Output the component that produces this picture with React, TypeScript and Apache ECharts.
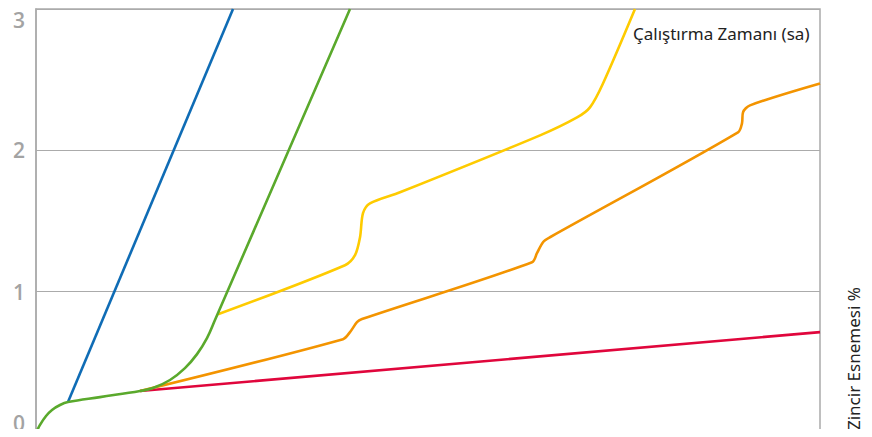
import React, { useEffect, useRef } from "react";
import * as echarts from "echarts";

// Running time (nominal scale 0..100, no tick labels) vs chain elongation %
const startPts: [number, number][] = [
  [0, 0], [0.51, 0.057], [1.28, 0.12], [2.04, 0.163], [3.06, 0.198], [4.08, 0.219],
];
const bluePts: [number, number][] = [[4.08, 0.219], [25.13, 3.0]];
const greenPts: [number, number][] = [
  ...startPts,
  [8.16, 0.254], [13.27, 0.297], [14.92, 0.318], [17.09, 0.375], [19.0, 0.459],
  [20.54, 0.558], [21.81, 0.671], [22.83, 0.799], [40.05, 3.0],
];
const yellowPts: [number, number][] = [
  [23.21, 0.84], [39.41, 1.187], [40.69, 1.258], [41.33, 1.385], [41.71, 1.555],
  [42.6, 1.625], [46.43, 1.703], [64.29, 2.106], [69.01, 2.233], [70.66, 2.304],
  [72.32, 2.473], [76.4, 3.0],
];
const orangePts: [number, number][] = [
  [13.27, 0.297], [39.16, 0.664], [40.05, 0.714], [40.94, 0.784], [41.58, 0.806],
  [63.27, 1.208], [63.9, 1.272], [64.67, 1.35], [65.56, 1.385], [89.54, 2.127],
  [90.05, 2.191], [90.18, 2.269], [91.07, 2.318], [100, 2.473],
];
const redPts: [number, number][] = [[13.27, 0.297], [100, 0.714]];

const yTicks = [0, 1, 2, 3];
const xLabel = "Çalıştırma Zamanı (sa)";
const yLabel = "Zincir Esnemesi %";

const COLORS = {
  red: "#e0063c",
  orange: "#f39400",
  yellow: "#fecb00",
  blue: "#0f6cb5",
  green: "#5aa92c",
};

export default function App() {
  const ref = useRef<HTMLDivElement>(null);
  useEffect(() => {
    if (!ref.current) return;
    const chart = echarts.init(ref.current, undefined, { renderer: "svg" });
    const mk = (name: string, data: [number, number][], color: string, smooth: number) => ({
      name,
      type: "line",
      data,
      smooth,
      showSymbol: false,
      symbol: "none",
      clip: true,
      lineStyle: { color, width: 2.6 },
      itemStyle: { color },
    });
    chart.setOption({
      animation: false,
      grid: {
        left: 36,
        right: 52,
        top: 9,
        bottom: 4,
        show: true,
        borderColor: "#ababab",
        borderWidth: 1.5,
        containLabel: false,
      },
      xAxis: {
        type: "value",
        min: 0,
        max: 100,
        axisLabel: { show: false },
        axisTick: { show: false },
        splitLine: { show: false },
        axisLine: { show: true, lineStyle: { color: "#ababab", width: 1.5 } },
      },
      yAxis: {
        type: "value",
        min: yTicks[0],
        max: yTicks[yTicks.length - 1],
        interval: 1,
        axisTick: { show: false },
        axisLine: { show: true, lineStyle: { color: "#ababab", width: 1.5 } },
        splitLine: { show: true, lineStyle: { color: "#ababab", width: 1.2 } },
        axisLabel: {
          color: "#a3a3a3",
          fontSize: 21,
          fontWeight: 600,
          fontFamily: "Open Sans",
          margin: 11,
          verticalAlignMinLabel: "bottom",
          verticalAlignMaxLabel: "top",
        },
      },
      series: [
        mk("red", redPts, COLORS.red, 0),
        mk("orange", orangePts, COLORS.orange, 0.3),
        mk("yellow", yellowPts, COLORS.yellow, 0.3),
        mk("blue", bluePts, COLORS.blue, 0),
        mk("green", greenPts, COLORS.green, 0.4),
      ],
      graphic: [
        {
          type: "text",
          left: 633,
          top: 25,
          style: {
            text: xLabel,
            fontSize: 17,
            fontFamily: "Noto Sans",
            fill: "#222222",
          },
        },
        {
          type: "text",
          x: 853,
          y: 430,
          rotation: Math.PI / 2,
          style: {
            text: yLabel,
            fontSize: 17,
            fontFamily: "Noto Sans",
            fill: "#222222",
            align: "left",
            verticalAlign: "middle",
          },
        },
      ],
    });
    return () => chart.dispose();
  }, []);
  return <div ref={ref} style={{ width: 872, height: 437, margin: -8 }} />;
}
